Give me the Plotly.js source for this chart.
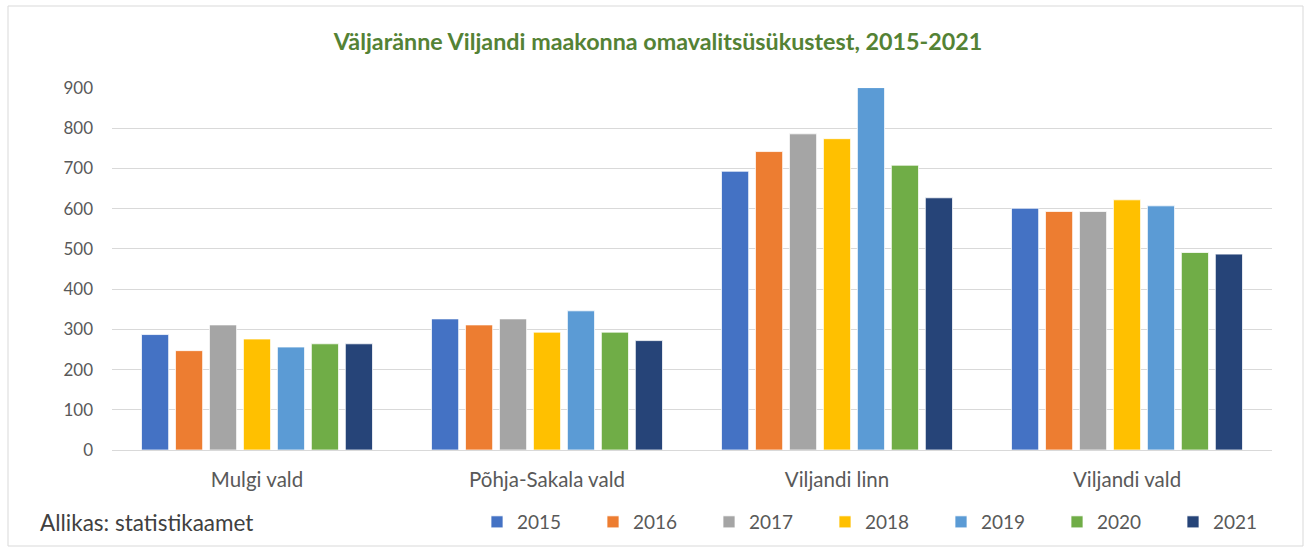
<!DOCTYPE html>
<html>
<head>
<meta charset="utf-8">
<script src="https://cdn.plot.ly/plotly-3.0.1.min.js"></script>
<style>html,body{margin:0;padding:0;background:#fff;}#chart{width:1310px;height:550px;}</style>
</head>
<body>
<div id="chart"></div>
<script>
const categories = ["Mulgi vald", "Põhja-Sakala vald", "Viljandi linn", "Viljandi vald"];
const years = ["2015", "2016", "2017", "2018", "2019", "2020", "2021"];
const v2015 = [287, 326, 693, 601];
const v2016 = [247, 311, 742, 593];
const v2017 = [311, 326, 786, 593];
const v2018 = [276, 293, 774, 622];
const v2019 = [256, 346, 901, 607];
const v2020 = [264, 293, 708, 491];
const v2021 = [264, 272, 627, 487];
const seriesValues = [v2015, v2016, v2017, v2018, v2019, v2020, v2021];
const colors = ["#4472C4", "#ED7D31", "#A5A5A5", "#FFC000", "#5B9BD5", "#70AD47", "#264478"];
const yTicks = [0, 100, 200, 300, 400, 500, 600, 700, 800, 900];

const FONT = "Lato, 'Open Sans', sans-serif";
const traces = years.map((y, i) => ({
  type: "bar",
  name: y,
  x: categories,
  y: seriesValues[i],
  marker: {color: colors[i], line: {color: "#ffffff", width: 0.75}},
  hoverinfo: "x+y+name"
}));

const layout = {
  width: 1310, height: 550,
  margin: {l: 112, r: 38, t: 88, b: 100, pad: 0, autoexpand: false},
  paper_bgcolor: "#ffffff", plot_bgcolor: "#ffffff",
  font: {family: FONT, color: "#595959", size: 17},
  title: {text: "<b>Väljaränne Viljandi maakonna omavalitsüsükustest, 2015-2021</b>",
          font: {family: FONT, size: 23.3, color: "#548235"},
          x: 658/1310, xanchor: "center", y: 1 - 42/550, yanchor: "middle", xref: "container", yref: "container"},
  barmode: "group", bargap: 0.18, bargroupgap: 0.2,
  xaxis: {type: "category", showgrid: false, showline: false, zeroline: false, ticks: "",
          tickfont: {family: FONT, size: 20.5, color: "#595959"}, ticklabelstandoff: 15, fixedrange: true},
  yaxis: {range: [0, 900], tickvals: yTicks, ticktext: yTicks.map(String), showgrid: true,
          gridcolor: "#d9d9d9", gridwidth: 1, zeroline: true, zerolinecolor: "#d9d9d9", zerolinewidth: 1,
          showline: false, ticks: "", ticklabelstandoff: 18,
          tickfont: {family: FONT, size: 17, color: "#595959"}, fixedrange: true},
  showlegend: true,
  legend: {orientation: "h", xref: "container", x: 477/1310, xanchor: "left",
           yref: "container", y: 1 - 522/550, yanchor: "middle",
           entrywidth: 71, entrywidthmode: "pixels", font: {family: FONT, size: 19, color: "#595959"},
           traceorder: "normal", bgcolor: "rgba(0,0,0,0)", borderwidth: 0},
  annotations: [{text: "Allikas: statistikaamet", xref: "paper", yref: "paper",
                 x: (38 - 112) / 1160, y: (450 - 522) / 362, xanchor: "left", yanchor: "middle",
                 showarrow: false, font: {family: FONT, size: 22.5, color: "#404040"}}],
  shapes: [{type: "rect", xref: "paper", yref: "paper",
            x0: (8 - 112) / 1160, x1: (1303 - 112) / 1160, y0: (450 - 546) / 362, y1: (450 - 6) / 362,
            line: {color: "#d9d9d9", width: 1}, fillcolor: "rgba(0,0,0,0)", layer: "below"}]
};

Plotly.newPlot("chart", traces, layout, {displayModeBar: false, staticPlot: true});
</script>
</body>
</html>
